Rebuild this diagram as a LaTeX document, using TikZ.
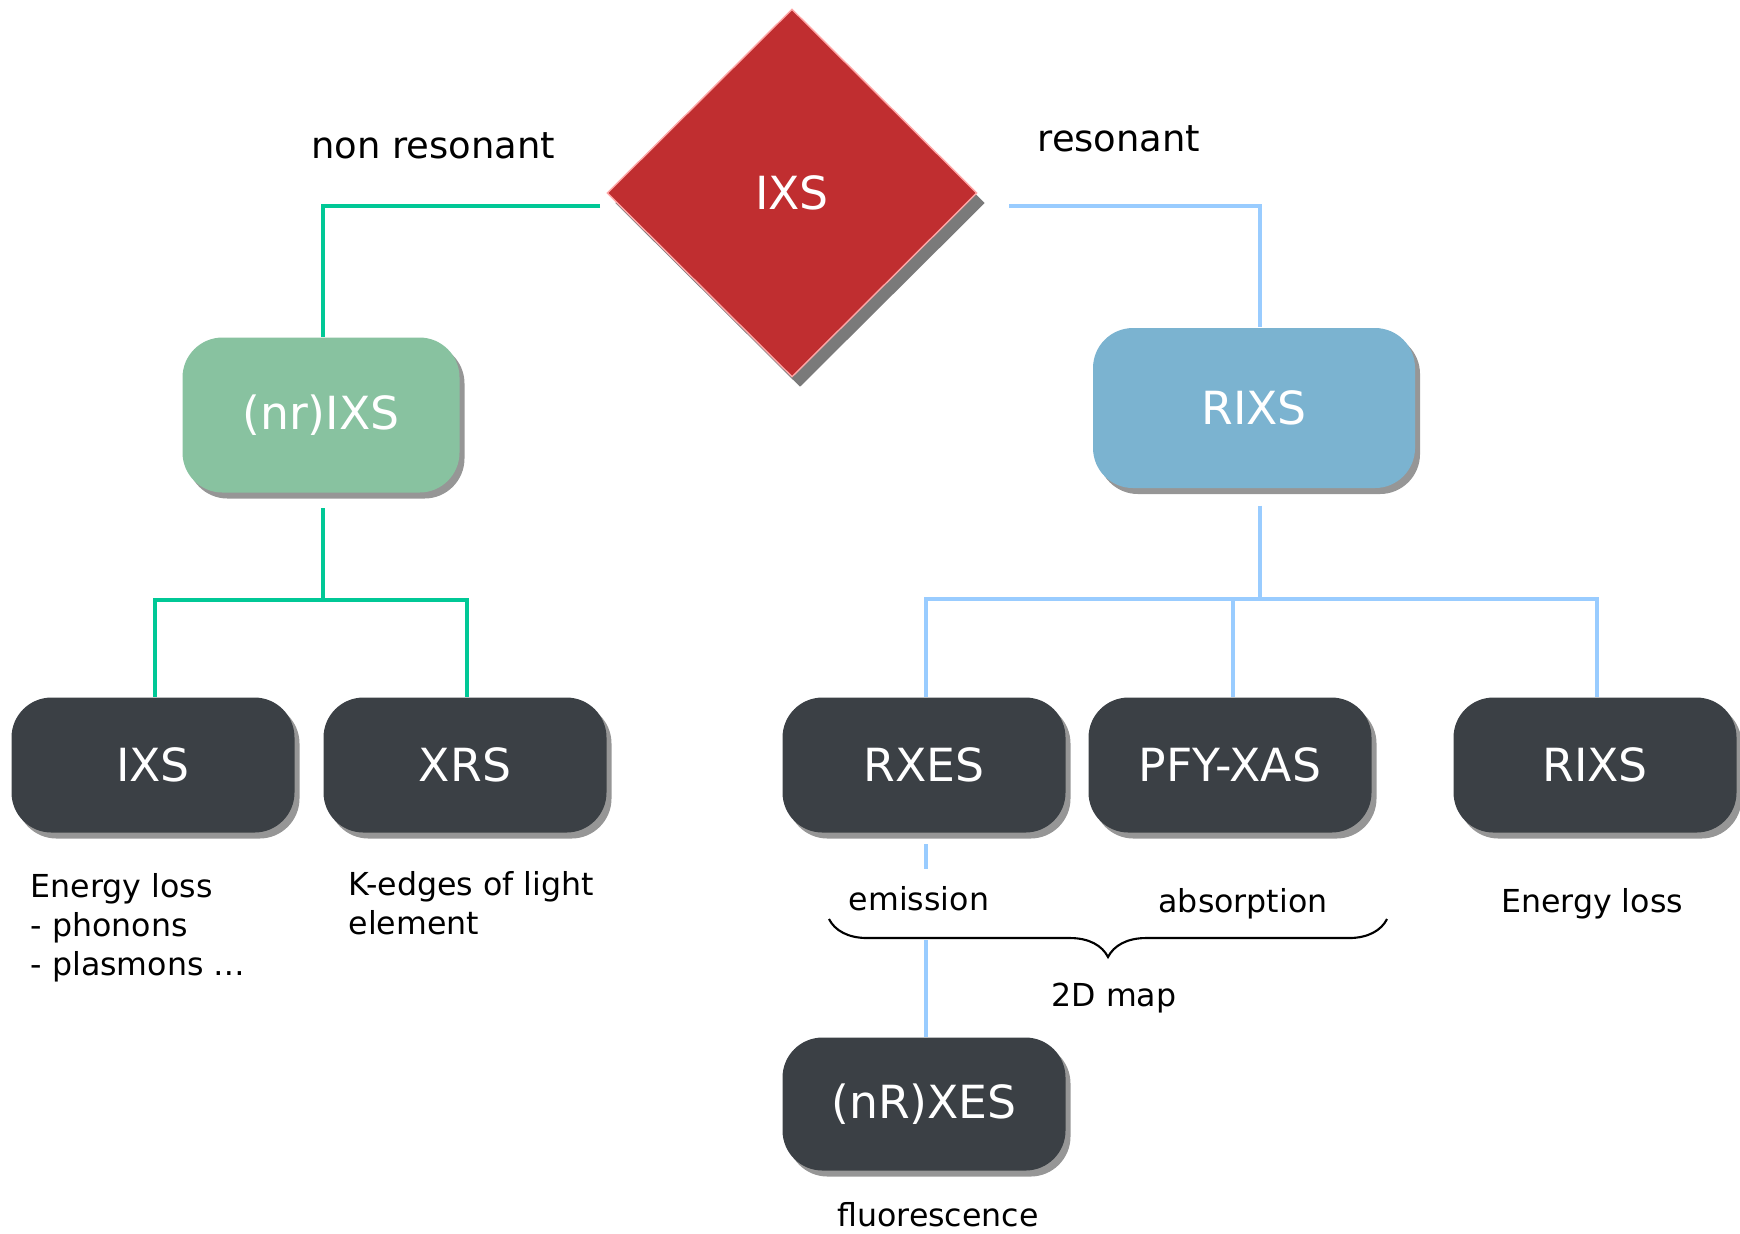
\documentclass[tikz,border=0pt]{standalone}
\usepackage{fontspec}
\setmainfont{DejaVu Sans}
\usetikzlibrary{shapes.geometric,shadows,decorations.pathreplacing}
\definecolor{ixsred}{RGB}{192,46,48}
\definecolor{nrfill}{RGB}{136,194,160}
\definecolor{rfill}{RGB}{123,179,208}
\definecolor{boxgrey}{RGB}{59,64,69}
\definecolor{nrgreen}{RGB}{0,200,150}
\definecolor{rblue}{RGB}{153,204,255}

\begin{document}
\begin{tikzpicture}
  [x=.1mm,y=-.1mm,
   every node/.style={font=\fontsize{9}{11.1}\selectfont},
   box/.style={rounded corners=.4cm,text=white,minimum width=2.83cm,minimum height=1.35cm,
     font=\fontsize{13}{15}\selectfont,
     drop shadow={shadow xshift=.05cm,shadow yshift=-.06cm,opacity=.55,fill=black!75}},
   leaf/.style={box,fill=boxgrey},
   toplabel/.style={font=\fontsize{10.5}{12.6}\selectfont},
   nrline/.style={draw=nrgreen,line width=1.4pt},
   rline/.style={draw=rblue,line width=1.4pt}]
  \useasboundingbox (0,0) rectangle (1740,1233);
  \node[diamond,fill=ixsred,draw=red!35,minimum width=3.7cm,minimum height=3.68cm,inner sep=0,
    text=white,font=\fontsize{13}{15}\selectfont,
    drop shadow={shadow xshift=.08cm,shadow yshift=-.1cm,opacity=.65,fill=black!80}] (top) at (792,193) {IXS};
  \node[box,fill=nrfill,minimum width=2.77cm,minimum height=1.55cm] (nrixs) at (321,415) {(nr)IXS};
  \node[box,fill=rfill,minimum width=3.22cm,minimum height=1.6cm] (rixs) at (1254,408) {RIXS};
  \node[leaf] (ixs) at (153,765) {IXS};
  \node[leaf] (xrs) at (465,765) {XRS};
  \node[leaf] (rxes) at (924,765) {RXES};
  \node[leaf] (pfy) at (1230,765) {PFY-XAS};
  \node[leaf] (rixsb) at (1595,765) {RIXS};
  \node[leaf,minimum height=1.33cm] (nrxes) at (924,1104) {(nR)XES};
  \node[toplabel] (nrlabel) at (433,146) {non resonant};
  \node[toplabel] (rlabel) at (1119,139) {resonant};
  \node[align=left,anchor=west,inner sep=0] (ixsnote) at (30,928) {Energy loss\\- phonons\\- plasmons …};
  \node[align=left,anchor=west,inner sep=0] (xrsnote) at (348,903) {K-edges of light\\element};
  \node (emission) at (919,899) {emission};
  \node (absorption) at (1243,904) {absorption};
  \node (rixsnote) at (1592,904) {Energy loss};
  \node (map) at (1114,998) {2D map};
  \node (fluo) at (938,1215) {fluorescence};
  \coordinate (nrend) at (600,206);
  \coordinate (rend) at (1009,206);
  \coordinate (nrfork) at (323,600);
  \coordinate (rfork) at (1260,599);
  \coordinate (bracelow) at (926,940);
  \draw[nrline] (nrend) -| (nrfork |- nrixs.north);
  \draw[rline] (rend) -| (rfork |- rixs.north);
  \draw[nrline] ([yshift=-.15cm]nrfork |- nrixs.south) -- (nrfork);
  \draw[nrline] ([xshift=.02cm]ixs.north) |- (nrfork) -| ([xshift=.02cm]xrs.north);
  \draw[rline] ([yshift=-.17cm]rfork |- rixs.south) -- (rfork);
  \draw[rline] ([xshift=.02cm]rxes.north) |- (rfork) -| ([xshift=.02cm]rixsb.north);
  \draw[rline] ([xshift=.03cm]pfy.north) -- ([xshift=.03cm]pfy |- rfork);
  \draw[rline] ([xshift=.02cm,yshift=-.11cm]rxes.south) -- ++(0,25);
  \draw[rline] (bracelow) -- (bracelow |- nrxes.north);
  \draw[line width=.6pt,decorate,decoration={brace,mirror,amplitude=.38cm}] (829,919) -- (1387,919);
\end{tikzpicture}
\end{document}
